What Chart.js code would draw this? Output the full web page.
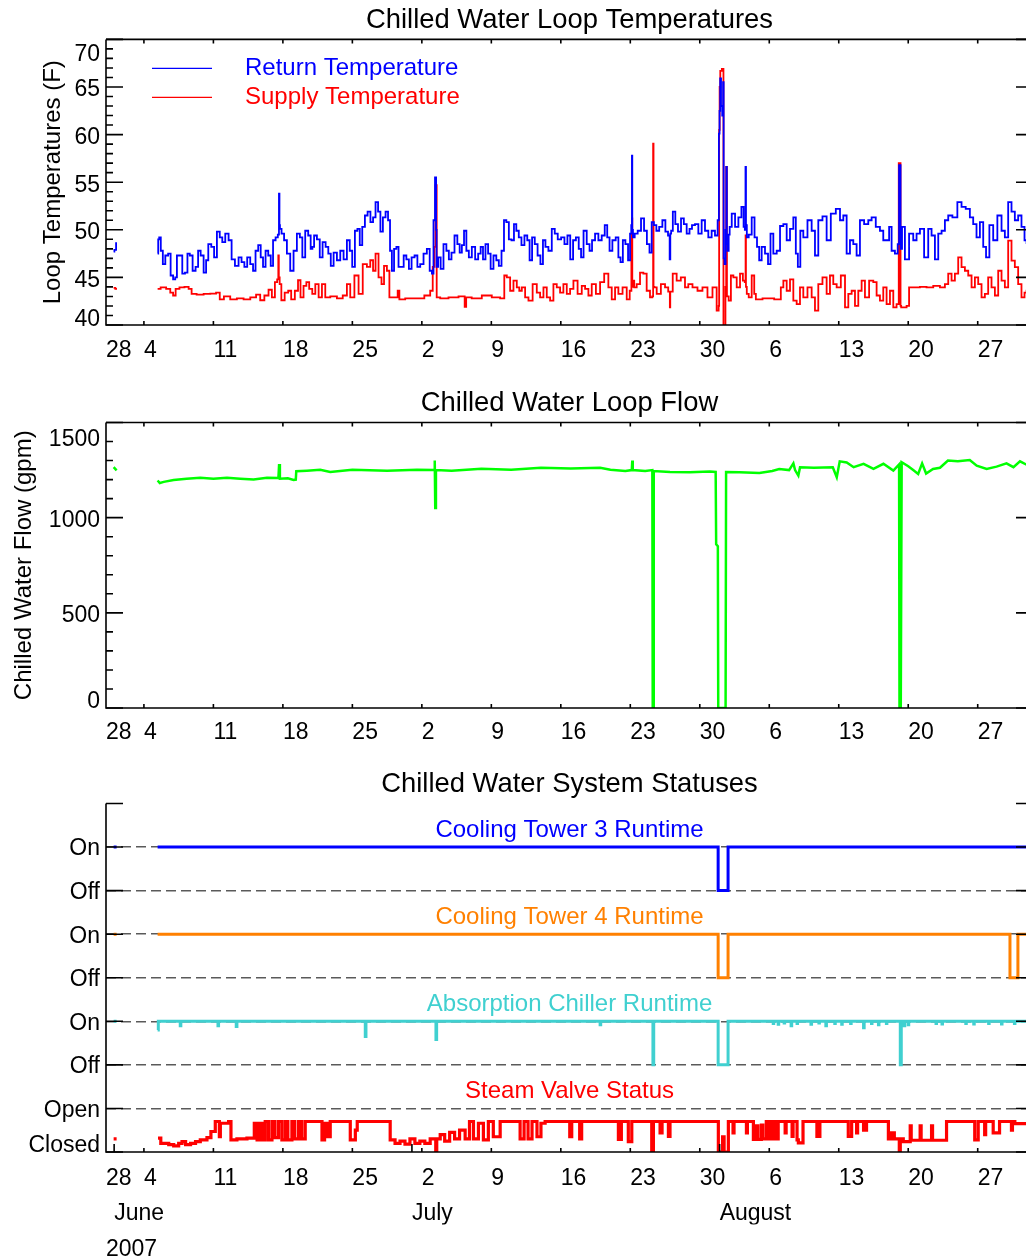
<!DOCTYPE html>
<html>
<head>
<meta charset="utf-8">
<script src="https://cdn.jsdelivr.net/npm/chart.js@4.4.0/dist/chart.umd.min.js"></script>
<style>
  html, body { margin: 0; padding: 0; background: #fff; overflow: hidden; }
  #page { position: relative; width: 1026px; height: 1260px; overflow: hidden; background: #fff; }
  #page canvas { position: absolute; left: 0; }
</style>
</head>
<body>
<div id="page">
  <canvas id="temps" width="1045" height="370" style="top:0px"></canvas>
  <canvas id="flow" width="1045" height="375" style="top:380px"></canvas>
  <canvas id="status" width="1045" height="500" style="top:760px"></canvas>
</div>
<script>
// ---------------------------------------------------------------------------
// Time axis: days since 1 June 2007 00:00
// ---------------------------------------------------------------------------
const weekTickDays   = [3, 10, 17, 24, 31, 38, 45, 52, 59, 66, 73, 80, 87];
const weekTickLabels = ['4', '11', '18', '25', '2', '9', '16', '23', '30', '6', '13', '20', '27'];
const startLabel     = '28';
const monthTickDays  = [0, 30, 61];
const monthLabels    = ['June', 'July', 'August'];
const yearLabel      = '2007';

// Loop temperatures (F): [day, value]
const returnTemp = [
  [-0.05,47.7],[0.1,47.9],[0.29,48.6],[0.35,null],
  [4.38,47.5],[4.5,49.0],[4.58,49.2],[4.82,47.8],[4.99,46.4],[5.32,47.3],[5.56,47.5],[5.82,45.2],[6.06,44.8],[6.25,45.0],
  [6.4,47.3],[6.73,47.3],[7.0,45.4],[7.27,45.5],[7.5,47.5],[7.74,47.3],[8.07,45.7],[8.34,46.1],[8.58,47.8],[8.85,47.3],
  [9.18,45.5],[9.35,46.8],[9.62,48.5],[9.95,48.2],[10.19,47.1],[10.52,49.8],[10.76,49.2],[11.03,48.7],[11.36,49.6],
  [11.7,48.9],[11.97,46.9],[12.37,46.2],[12.7,47.1],[12.97,46.6],[13.27,46.1],[13.54,47.1],[13.88,46.4],[14.11,45.7],
  [14.38,47.8],[14.65,48.4],[14.88,47.1],[15.12,46.1],[15.39,47.8],[15.66,47.3],[15.89,46.2],[16.13,48.9],[16.4,49.2],
  [16.58,49.5],[16.63,53.8],[16.68,50.5],[16.73,50.1],[17.0,49.6],[17.24,48.9],[17.57,47.5],[17.91,45.7],[18.24,47.8],
  [18.58,49.6],[18.84,49.2],[19.08,47.1],[19.42,49.9],[19.68,49.4],[19.92,48.0],[20.03,48.2],[20.26,49.4],[20.6,49.0],
  [20.83,47.1],[21.17,48.7],[21.44,48.2],[21.71,47.5],[21.94,46.2],[22.28,47.6],[22.61,46.8],[22.95,47.8],[23.28,46.9],
  [23.62,48.9],[23.85,47.8],[24.12,46.1],[24.39,49.9],[24.63,50.1],[24.86,48.4],[25.13,50.3],[25.4,51.5],[25.67,51.9],
  [25.97,50.8],[26.2,51.3],[26.47,52.9],[26.71,51.9],[26.94,49.8],[27.21,51.3],[27.48,51.9],[27.71,51.0],[27.88,47.8],
  [28.08,45.7],[28.32,48.0],[28.55,48.2],[28.75,46.1],[29.02,46.1],[29.32,47.3],[29.56,46.9],[29.83,45.9],[30.1,47.1],
  [30.43,47.3],[30.67,46.1],[31.0,46.4],[31.34,47.5],[31.67,48.0],[31.91,45.7],[32.11,45.4],[32.24,51.0],[32.41,55.5],
  [32.46,50.0],[32.51,46.1],[32.78,47.1],[33.01,45.9],[33.35,48.5],[33.59,47.8],[33.85,46.9],[34.12,47.6],[34.46,49.4],
  [34.69,48.5],[34.93,47.6],[35.13,48.4],[35.37,49.9],[35.6,47.8],[35.87,47.1],[36.2,48.2],[36.54,46.9],[36.81,47.5],
  [37.04,48.2],[37.28,46.9],[37.54,48.5],[37.81,47.5],[38.05,45.9],[38.38,47.3],[38.62,46.8],[38.89,46.2],[39.16,47.8],
  [39.39,51.0],[39.63,50.8],[39.9,49.0],[40.16,48.9],[40.4,50.6],[40.63,49.9],[40.9,49.2],[41.17,48.4],[41.5,49.4],
  [41.74,48.9],[41.97,46.8],[42.24,49.2],[42.51,48.5],[42.81,47.3],[43.08,46.4],[43.32,48.9],[43.58,48.2],[43.92,47.8],
  [44.26,50.1],[44.52,49.6],[44.86,49.0],[45.2,49.2],[45.53,48.5],[45.8,49.4],[46.1,46.9],[46.37,48.9],[46.67,49.2],
  [46.94,48.0],[47.14,47.1],[47.44,49.9],[47.78,48.5],[48.01,47.8],[48.28,48.9],[48.62,49.6],[48.95,48.9],[49.29,49.4],
  [49.56,50.5],[49.79,49.2],[50.03,47.8],[50.36,48.9],[50.7,49.2],[50.9,47.1],[51.13,46.6],[51.37,48.9],[51.64,48.5],
  [51.91,46.8],[52.04,49.6],[52.15,50.5],[52.18,57.8],[52.22,50.0],[52.31,49.2],[52.58,49.6],[52.91,49.9],[53.25,51.2],
  [53.52,49.9],[53.82,48.5],[54.05,47.6],[54.26,50.8],[54.49,50.5],[54.76,49.9],[55.06,50.3],[55.4,51.0],[55.67,49.8],
  [55.93,49.4],[56.0,46.9],[56.06,49.6],[56.17,49.9],[56.4,51.9],[56.67,50.6],[56.94,49.8],[57.28,51.2],[57.51,50.6],
  [57.85,49.6],[58.08,50.1],[58.35,50.5],[58.69,50.6],[59.02,49.6],[59.36,51.0],[59.69,49.9],[60.03,49.2],[60.36,49.9],
  [60.7,49.4],[60.9,51.0],[60.95,60.1],[61.03,62.5],[61.08,65.9],[61.2,63.0],[61.32,62.0],[61.38,65.5],[61.43,47.0],
  [61.55,46.4],[61.65,50.0],[61.7,56.6],[61.75,48.5],[61.85,47.8],[61.97,49.5],[62.05,50.3],[62.39,51.7],[62.72,50.3],
  [63.06,51.3],[63.33,52.4],[63.5,50.3],[63.58,50.0],[63.63,56.6],[63.68,50.5],[63.8,49.2],[64.06,49.5],[64.4,51.3],
  [64.63,49.2],[64.9,48.2],[65.07,46.8],[65.4,48.2],[65.74,47.5],[66.01,46.4],[66.24,49.6],[66.58,47.5],[66.92,47.8],
  [67.25,50.4],[67.59,50.6],[67.92,48.9],[68.26,50.1],[68.59,51.3],[68.76,47.5],[69.0,46.1],[69.26,49.9],[69.6,49.2],
  [70.1,51.0],[70.44,49.9],[70.77,47.3],[71.11,51.0],[71.61,51.4],[71.95,48.9],[72.45,51.7],[72.96,52.2],[73.29,51.0],
  [73.63,51.5],[73.96,47.5],[74.3,48.9],[74.63,48.5],[74.97,47.3],[75.3,51.0],[75.81,50.6],[76.14,51.0],[76.48,51.3],
  [76.98,50.3],[77.32,49.9],[77.65,48.9],[77.99,48.9],[78.16,50.3],[78.49,47.8],[78.83,47.5],[79.05,48.5],[79.1,56.8],
  [79.2,56.8],[79.25,48.0],[79.5,50.3],[79.83,46.9],[80.34,49.6],[80.67,48.9],[81.01,49.6],[81.35,50.1],[81.85,47.1],
  [82.18,50.1],[82.52,49.4],[82.86,46.9],[83.19,49.6],[83.53,49.9],[83.86,51.0],[84.2,51.5],[84.7,51.3],[85.2,52.9],
  [85.54,52.4],[86.04,52.2],[86.38,51.3],[86.71,50.6],[87.05,49.2],[87.39,50.8],[87.72,48.2],[87.96,47.1],[88.39,50.5],
  [88.73,48.9],[89.23,51.5],[89.57,49.9],[89.9,49.2],[90.24,52.9],[90.57,51.9],[90.91,51.0],[91.24,51.5],[91.58,50.3],
  [91.85,48.9],[92.0,48.6]
];

const supplyTemp = [
  [-0.05,43.9],[0.29,43.8],[0.35,null],
  [4.38,43.8],[4.99,43.96],[5.49,43.8],[5.82,43.4],[6.06,43.1],[6.33,43.8],[6.83,43.96],[7.34,44.0],[7.67,43.8],
  [7.94,43.26],[8.68,43.2],[9.35,43.26],[10.02,43.3],[10.52,43.4],[10.76,42.7],[11.36,43.0],[12.03,42.7],[12.7,42.8],
  [13.38,42.7],[14.05,42.9],[14.55,43.2],[14.88,42.6],[15.39,43.1],[15.72,43.7],[16.06,42.9],[16.33,44.5],[16.52,44.8],
  [16.56,47.3],[16.62,45.0],[16.73,44.3],[16.96,42.6],[17.4,43.4],[17.67,43.6],[18.0,42.7],[18.41,43.6],[18.64,44.7],
  [18.91,42.9],[19.25,44.1],[19.48,44.5],[19.82,43.8],[20.1,43.26],[20.43,44.3],[20.77,42.9],[21.1,44.3],[21.44,42.9],
  [22.11,43.0],[22.78,42.8],[23.28,43.1],[23.62,44.3],[23.95,42.9],[24.46,45.2],[24.79,43.26],[25.3,46.4],[25.63,46.1],
  [25.97,46.8],[26.2,45.7],[26.47,47.5],[26.8,45.0],[27.07,44.3],[27.31,46.2],[27.65,45.7],[27.81,42.9],[28.48,42.9],
  [28.65,43.6],[28.82,42.7],[29.83,42.8],[30.83,42.8],[31.67,43.1],[32.01,43.6],[32.18,46.1],[32.34,48.2],[32.4,54.7],
  [32.47,54.7],[32.52,42.9],[33.18,42.8],[34.19,42.9],[35.2,43.0],[35.43,41.9],[35.5,42.9],[36.54,42.8],[37.54,43.1],
  [38.55,42.9],[39.22,42.8],[39.39,45.2],[39.73,45.0],[40.06,43.6],[40.4,44.66],[40.73,43.96],[40.9,43.6],[41.24,43.96],
  [41.57,42.9],[41.91,42.56],[42.41,44.3],[42.75,43.4],[43.08,42.9],[43.42,43.96],[43.75,42.9],[44.09,42.56],[44.42,44.3],
  [44.76,43.96],[45.09,43.4],[45.43,44.3],[45.77,43.26],[46.1,43.8],[46.44,44.66],[46.94,43.26],[47.28,44.1],[47.61,43.8],
  [47.95,43.1],[48.28,44.3],[48.79,43.26],[49.12,44.5],[49.62,45.4],[49.96,43.96],[50.3,42.7],[50.63,43.96],[50.97,43.26],
  [51.47,43.96],[51.81,42.7],[52.07,43.6],[52.15,49.0],[52.18,51.2],[52.22,44.0],[52.31,44.66],[52.48,43.96],[52.81,44.3],
  [53.15,45.5],[53.48,45.4],[53.82,43.6],[54.15,42.9],[54.28,43.0],[54.32,59.05],[54.36,44.0],[54.49,43.96],[54.83,43.26],
  [55.33,44.3],[55.67,43.96],[55.97,43.5],[56.0,41.86],[56.05,43.5],[56.5,45.4],[56.84,44.66],[57.34,45.0],[57.68,43.96],
  [58.01,44.3],[58.52,43.96],[59.02,43.6],[59.52,43.96],[60.03,42.9],[60.53,43.96],[60.87,41.5],[60.93,42.0],[60.97,60.5],
  [61.03,65.0],[61.1,66.7],[61.35,66.9],[61.42,39.0],[61.55,39.0],[61.62,44.0],[61.7,56.6],[61.77,43.0],[62.05,42.56],
  [62.22,45.2],[62.55,45.0],[62.89,43.96],[63.22,45.4],[63.46,44.66],[63.6,44.5],[63.63,49.4],[63.67,44.0],[63.8,43.26],
  [64.06,42.9],[64.4,45.2],[64.57,43.26],[64.73,42.7],[65.91,42.8],[67.08,42.7],[67.25,43.96],[67.59,44.66],[67.92,43.6],
  [68.26,44.8],[68.59,42.56],[68.93,42.2],[69.26,43.96],[69.6,42.9],[70.1,43.96],[70.44,42.9],[70.77,41.5],[71.11,44.3],
  [71.61,45.0],[71.95,43.26],[72.28,45.2],[72.62,44.3],[72.96,43.96],[73.46,45.2],[73.8,41.86],[74.13,43.26],[74.47,43.6],
  [74.8,42.0],[75.14,43.6],[75.47,44.66],[75.81,42.9],[76.31,44.66],[76.65,44.5],[76.98,43.1],[77.32,42.56],[77.65,43.96],
  [77.99,42.2],[78.33,43.6],[78.66,41.86],[78.99,42.2],[79.1,57.0],[79.2,57.0],[79.25,42.0],[79.33,41.86],[79.67,41.86],
  [80.0,42.0],[80.17,43.96],[80.84,43.96],[81.51,44.0],[82.18,43.96],[82.86,44.1],[83.53,43.96],[83.86,44.3],[84.2,45.4],
  [84.53,44.66],[84.87,45.4],[85.2,47.1],[85.54,46.07],[85.88,45.7],[86.21,45.2],[86.55,43.96],[86.88,45.0],[87.22,44.3],
  [87.55,42.9],[87.89,43.26],[88.22,45.0],[88.56,43.96],[88.9,43.1],[89.23,45.7],[89.57,44.66],[89.9,43.96],[90.24,48.87],
  [90.57,46.77],[90.91,46.07],[91.24,44.3],[91.58,42.9],[91.85,43.4],[92.0,43.6]
];

// Chilled water loop flow (gpm): [day, value]
const loopFlow = [
  [-0.05,1265],[0.25,1248],[0.3,null],
  [4.38,1195],[4.6,1182],[5.0,1188],[5.99,1198],[7.3,1204],[8.68,1209],[10.0,1204],[11.37,1209],[12.7,1205],[14.05,1200],
  [15.4,1209],[16.55,1208],[16.62,1282],[16.7,1205],[17.5,1207],[18.08,1198],[18.3,1200],[18.35,1244],[19.42,1247],
  [20.76,1251],[21.77,1240],[24.0,1252],[27.5,1247],[30.5,1252],[32.25,1250],[32.3,1300],[32.35,1051],[32.42,1250],
  [34.0,1247],[37.0,1257],[40.0,1252],[43.0,1262],[46.0,1258],[48.96,1262],[50.0,1252],[51.5,1245],[52.15,1250],
  [52.2,1300],[52.25,1250],[53.5,1245],[54.22,1250],[54.26,0],[54.32,0],[54.36,1245],[56.0,1240],[58.0,1238],[60.0,1242],
  [60.6,1240],[60.65,860],[60.82,850],[60.86,0],[61.6,0],[61.65,1240],[63.0,1238],[65.0,1235],[66.3,1245],[67.0,1255],
  [68.0,1250],[68.43,1285],[68.6,1250],[68.93,1221],[69.1,1265],[70.5,1262],[72.4,1265],[72.8,1212],[73.1,1296],
  [73.8,1290],[74.5,1265],[75.5,1283],[76.5,1256],[77.5,1283],[78.5,1247],[79.08,1280],[79.12,0],[79.25,0],[79.34,1291],
  [80.0,1270],[80.5,1250],[81.0,1230],[81.4,1285],[81.8,1232],[82.5,1256],[83.2,1262],[84.0,1300],[85.0,1296],
  [86.2,1303],[86.9,1273],[87.9,1256],[88.9,1268],[89.9,1285],[90.6,1265],[91.26,1296],[91.93,1278]
];

// System statuses (status axis units): [day, value], each value holds until the next entry
const tower3Status = [[-0.05,7],[0.25,7],[0.3,null],[4.38,7],[60.85,6],[61.85,7],[92.0,7]];
const tower4Status = [[-0.05,5],[0.25,5],[0.3,null],[4.38,5],[60.85,4],[61.85,5],[90.25,4],[91.05,5],[92.0,5]];
const chillerStatus = [
  [-0.05,3],[0.25,3],[0.3,null],
  [4.38,2.8],[4.45,3],[6.66,2.9],[6.72,3],[10.46,2.9],[10.52,3],[12.3,2.88],[12.37,3],[25.3,2.65],[25.37,3],
  [32.42,2.58],[32.49,3],[48.96,2.92],[49.02,3],[54.28,2],[54.36,3],[60.85,2],[61.85,3],[66.4,2.95],[66.45,3],
  [66.9,2.93],[66.95,3],[67.5,2.96],[67.55,3],[68.2,2.9],[68.26,3],[68.8,2.95],[68.85,3],[70.2,2.93],[70.26,3],
  [71.0,2.96],[71.05,3],[71.7,2.9],[71.76,3],[72.6,2.95],[72.65,3],[73.3,2.93],[73.35,3],[74.2,2.95],[74.25,3],
  [75.5,2.85],[75.56,3],[76.3,2.95],[76.35,3],[77.0,2.92],[77.05,3],[77.8,2.95],[77.85,3],[79.2,2],[79.3,3],
  [79.6,2.9],[79.65,3],[80.0,2.92],[80.05,3],[82.8,2.95],[82.85,3],[83.4,2.94],[83.45,3],[85.8,2.95],[85.85,3],
  [86.6,2.94],[86.65,3],[88.1,2.95],[88.15,3],[89.4,2.94],[89.45,3],[90.7,2.95],[90.75,3],[92.0,3]
];
const steamValve = [
  [-0.05,0.3],[0.25,0.3],[0.3,null],
  [4.42,0.32],[4.7,0.2],[5.5,0.17],[6.0,0.14],[6.5,0.2],[6.84,0.24],[7.2,0.17],[7.7,0.2],[8.2,0.24],[8.68,0.28],
  [9.35,0.33],[9.75,0.47],[10.19,0.7],[10.6,0.35],[10.7,0.66],[11.53,0.7],[11.77,0.28],[12.37,0.3],[13.38,0.32],
  [14.12,0.66],[14.4,0.28],[14.72,0.66],[14.95,0.28],[15.22,0.7],[15.55,0.28],[15.9,0.7],[16.2,0.33],[16.56,0.7],
  [16.9,0.28],[17.24,0.7],[17.5,0.28],[17.91,0.7],[18.2,0.3],[18.58,0.7],[18.9,0.3],[19.25,0.7],[20.94,0.28],
  [21.2,0.66],[21.5,0.35],[21.77,0.7],[23.79,0.28],[24.3,0.5],[24.49,0.7],[27.81,0.28],[28.3,0.2],[28.8,0.25],
  [29.3,0.18],[29.8,0.3],[30.3,0.2],[30.8,0.25],[31.3,0.2],[31.84,0.3],[32.4,0.0],[32.5,0.3],[32.85,0.4],[33.3,0.25],
  [33.8,0.45],[34.3,0.3],[34.8,0.5],[35.36,0.3],[35.8,0.7],[36.2,0.3],[36.7,0.66],[37.2,0.28],[37.7,0.7],[38.2,0.35],
  [38.89,0.7],[40.9,0.3],[41.3,0.7],[41.7,0.3],[42.1,0.7],[42.6,0.35],[43.0,0.66],[43.42,0.7],[45.9,0.35],[46.1,0.7],
  [46.9,0.3],[47.1,0.7],[50.8,0.29],[51.1,0.7],[51.8,0.24],[52.15,0.7],[54.16,0.0],[54.33,0.7],[55.0,0.44],[55.2,0.7],
  [55.84,0.36],[56.0,0.7],[60.87,0.0],[61.3,0.35],[61.45,0.0],[61.88,0.7],[62.35,0.44],[62.45,0.7],[63.7,0.44],
  [63.8,0.7],[64.4,0.29],[64.7,0.6],[64.85,0.29],[65.2,0.62],[65.35,0.3],[65.7,0.7],[66.0,0.3],[66.3,0.7],[66.6,0.3],
  [66.9,0.7],[67.6,0.44],[67.7,0.7],[68.3,0.36],[68.4,0.7],[68.8,0.28],[68.93,0.21],[69.4,0.7],[70.8,0.36],[71.1,0.7],
  [73.96,0.36],[74.3,0.7],[74.8,0.44],[74.9,0.7],[75.5,0.5],[75.8,0.7],[78.0,0.3],[78.3,0.44],[78.6,0.3],[79.1,0.0],
  [79.2,0.3],[79.5,0.24],[80.2,0.6],[80.3,0.27],[81.2,0.6],[81.3,0.27],[82.35,0.6],[82.45,0.27],[83.86,0.7],[86.7,0.28],
  [87.05,0.7],[87.7,0.4],[87.8,0.7],[88.56,0.44],[89.2,0.7],[90.4,0.5],[90.5,0.7],[90.74,0.65],[92.0,0.68]
];

// Value-axis ticks
const tempTicks = [40, 45, 50, 55, 60, 65, 70];
const flowTicks = [0, 500, 1000, 1500];
const statusLevels = [0, 1, 2, 3, 4, 5, 6, 7, 8];
const statusTickLabels = ['Closed', 'Open', 'Off', 'On', 'Off', 'On', 'Off', 'On', ''];

// ---------------------------------------------------------------------------
// Styling and layout
// ---------------------------------------------------------------------------
const FONT = '"Liberation Sans", Arial, Helvetica, sans-serif';
Chart.defaults.font.family = FONT;
Chart.defaults.color = '#000';

const X_MIN = -0.82, X_MAX = 92.57;
const BLUE = '#0000ff', RED = '#ff0000', GREEN = '#00ff00', ORANGE = '#ff8000', TURQ = '#40d0d0';

const pts = arr => arr.map(([x, y]) => ({ x, y }));

function timeAxis(values, labels, pad, height, weight) {
  return {
    type: 'linear', position: 'bottom', min: X_MIN, max: X_MAX, weight,
    grid: { display: false, drawTicks: false }, border: { display: false },
    afterBuildTicks: s => { s.ticks = values.map(v => ({ value: v })); },
    afterFit: s => { s.height = height; },
    ticks: {
      autoSkip: false, maxRotation: 0, minRotation: 0, align: 'start', padding: pad,
      font: { size: 23 }, color: '#000', callback: (v, i) => labels[i]
    }
  };
}

function line(data, color, width, stepped) {
  return {
    data: pts(data), borderColor: color, backgroundColor: color, borderWidth: width,
    pointRadius: 0, tension: 0, stepped: stepped || false, spanGaps: false, fill: false
  };
}

// Draws the plot frame, inward tick marks, end-of-axis labels and in-plot captions
const axisFrame = {
  id: 'axisFrame',
  afterDatasetsDraw(chart, args, o) {
    const { ctx, chartArea: a } = chart;
    const ys = chart.scales.y, xs = chart.scales.x;
    ctx.save();
    ctx.strokeStyle = '#000';
    ctx.lineWidth = 1.6;
    ctx.lineCap = 'butt';
    ctx.beginPath();
    ctx.moveTo(a.left, a.top); ctx.lineTo(a.left, a.bottom);
    ctx.lineTo(a.right, a.bottom); ctx.lineTo(a.right, a.top);
    if (o.top) ctx.lineTo(a.left, a.top);
    ctx.stroke();

    ctx.beginPath();
    const steps = Math.round((ys.max - ys.min) / o.yMinor);
    for (let k = 0; k <= steps; k++) {
      const v = ys.min + k * o.yMinor;
      const r = v / o.yMajor;
      const len = Math.abs(r - Math.round(r)) < 1e-6 ? 17 : 7;
      const py = ys.getPixelForValue(v);
      ctx.moveTo(a.left, py); ctx.lineTo(a.left + len, py);
      ctx.moveTo(a.right, py); ctx.lineTo(a.right - len, py);
    }
    for (const d of o.xTicks) {
      const px = xs.getPixelForValue(d);
      ctx.moveTo(px, a.bottom); ctx.lineTo(px, a.bottom - 4);
      if (o.top) { ctx.moveTo(px, a.top); ctx.lineTo(px, a.top + 4); }
    }
    for (const d of (o.monthTicks || [])) {
      const px = xs.getPixelForValue(d);
      ctx.moveTo(px, a.bottom); ctx.lineTo(px, a.bottom - 8);
    }
    ctx.stroke();

    ctx.textBaseline = 'middle';
    ctx.fillStyle = '#000';
    ctx.textAlign = 'right';
    ctx.font = '23px ' + FONT;
    for (const e of (o.edge || [])) {
      ctx.fillText(e.text, a.left - 6, ys.getPixelForValue(e.value) + e.dy);
    }
    ctx.font = '24px ' + FONT;
    ctx.textAlign = 'left';
    for (const g of (o.legend || [])) {
      ctx.strokeStyle = g.color;
      ctx.lineWidth = 1.2;
      ctx.beginPath();
      ctx.moveTo(a.left + 46, a.top + g.row);
      ctx.lineTo(a.left + 106, a.top + g.row);
      ctx.stroke();
      ctx.fillStyle = g.color;
      ctx.fillText(g.text, a.left + 139, a.top + g.row);
    }
    ctx.textAlign = 'center';
    for (const c of (o.captions || [])) {
      ctx.fillStyle = c.color;
      ctx.fillText(c.text, (a.left + a.right) / 2, ys.getPixelForValue(c.value) + 2);
    }
    ctx.restore();
  }
};

const common = {
  responsive: false, animation: false, devicePixelRatio: 1, events: []
};

function titleOpts(text, top, bottom) {
  return {
    display: true, text, fullSize: false, color: '#000',
    font: { size: 27.4, weight: 'normal' }, padding: { top, bottom }
  };
}

// Panel 1: loop temperatures
new Chart(document.getElementById('temps'), {
  type: 'line',
  data: { datasets: [line(returnTemp, BLUE, 1.8, 'middle'), line(supplyTemp, RED, 1.8, 'middle')] },
  options: {
    ...common,
    layout: { padding: { left: 39, right: 12, top: 0, bottom: 0 } },
    plugins: {
      legend: { display: false }, tooltip: { enabled: false },
      title: titleOpts('Chilled Water Loop Temperatures', 4.3, 2.2),
      axisFrame: {
        top: true, yMinor: 1, yMajor: 5, xTicks: weekTickDays,
        edge: [{ value: 70, text: '70', dy: 15 }, { value: 40, text: '40', dy: -5 }],
        legend: [
          { text: 'Return Temperature', color: BLUE, row: 29 },
          { text: 'Supply Temperature', color: RED, row: 58 }
        ]
      }
    },
    scales: {
      x: timeAxis([X_MIN, ...weekTickDays], [startLabel, ...weekTickLabels], 11.7, 45, 0),
      y: {
        type: 'linear', min: 40, max: 70,
        afterBuildTicks: s => { s.ticks = tempTicks.map(v => ({ value: v })); },
        afterFit: s => { s.width = 67; },
        grid: { display: false, drawTicks: false }, border: { display: false },
        title: { display: true, text: 'Loop Temperatures (F)', font: { size: 24 }, color: '#000', padding: { top: 0, bottom: 0 } },
        ticks: { padding: 6, labelOffset: 3, font: { size: 23 }, color: '#000',
          callback: v => (v === tempTicks[0] || v === tempTicks[tempTicks.length - 1]) ? '' : String(v) }
      }
    }
  },
  plugins: [axisFrame]
});

// Panel 2: loop flow
new Chart(document.getElementById('flow'), {
  type: 'line',
  data: { datasets: [line(loopFlow, GREEN, 2.5)] },
  options: {
    ...common,
    layout: { padding: { left: 10, right: 12, top: 0, bottom: 0 } },
    plugins: {
      legend: { display: false }, tooltip: { enabled: false },
      title: titleOpts('Chilled Water Loop Flow', 7.3, 2.3),
      axisFrame: {
        top: true, yMinor: 100, yMajor: 500, xTicks: weekTickDays,
        edge: [{ value: 1500, text: '1500', dy: 17 }, { value: 0, text: '0', dy: -6 }]
      }
    },
    scales: {
      x: timeAxis([X_MIN, ...weekTickDays], [startLabel, ...weekTickLabels], 11.2, 47, 0),
      y: {
        type: 'linear', min: 0, max: 1500,
        afterBuildTicks: s => { s.ticks = flowTicks.map(v => ({ value: v })); },
        afterFit: s => { s.width = 96; },
        grid: { display: false, drawTicks: false }, border: { display: false },
        title: { display: true, text: 'Chilled Water Flow (gpm)', font: { size: 24 }, color: '#000', padding: { top: 0, bottom: 0 } },
        ticks: { padding: 6, labelOffset: 3, font: { size: 23 }, color: '#000',
          callback: v => (v === flowTicks[0] || v === flowTicks[flowTicks.length - 1]) ? '' : String(v) }
      }
    }
  },
  plugins: [axisFrame]
});

// Panel 3: system statuses
new Chart(document.getElementById('status'), {
  type: 'line',
  data: {
    datasets: [
      line(tower3Status, BLUE, 3, true),
      line(tower4Status, ORANGE, 3, true),
      line(chillerStatus, TURQ, 3, true),
      line(steamValve, RED, 3.2, true)
    ]
  },
  options: {
    ...common,
    layout: { padding: { left: 0, right: 12, top: 0, bottom: 0 } },
    plugins: {
      legend: { display: false }, tooltip: { enabled: false },
      title: titleOpts('Chilled Water System Statuses', 8.3, 2.3),
      axisFrame: {
        top: false, yMinor: 1, yMajor: 1, xTicks: weekTickDays, monthTicks: monthTickDays,
        edge: [{ value: 0, text: statusTickLabels[0], dy: -6 }],
        captions: [
          { text: 'Cooling Tower 3 Runtime', color: BLUE, value: 7.43 },
          { text: 'Cooling Tower 4 Runtime', color: ORANGE, value: 5.43 },
          { text: 'Absorption Chiller Runtime', color: TURQ, value: 3.43 },
          { text: 'Steam Valve Status', color: RED, value: 1.43 }
        ]
      }
    },
    scales: {
      x: timeAxis([X_MIN, ...weekTickDays], [startLabel, ...weekTickLabels], 12.5, 36.5, 0),
      x2: timeAxis(monthTickDays, monthLabels, 11.4, 36, 1),
      x3: timeAxis([X_MIN], [yearLabel], 11.2, 35.5, 2),
      y: {
        type: 'linear', min: 0, max: 8,
        afterBuildTicks: s => { s.ticks = statusLevels.map(v => ({ value: v })); },
        afterFit: s => { s.width = 106; },
        grid: {
          display: true, drawTicks: false, drawOnChartArea: true, lineWidth: 1.5,
          color: c => (c.tick && c.tick.value > 0 && c.tick.value < 8) ? '#5a5a5a' : 'rgba(0,0,0,0)'
        },
        border: { display: false, dash: [10, 5] },
        ticks: { padding: 6, labelOffset: 2, font: { size: 23 }, color: '#000',
          callback: (v, i) => i === 0 ? '' : statusTickLabels[i] }
      }
    }
  },
  plugins: [axisFrame]
});
</script>
</body>
</html>
